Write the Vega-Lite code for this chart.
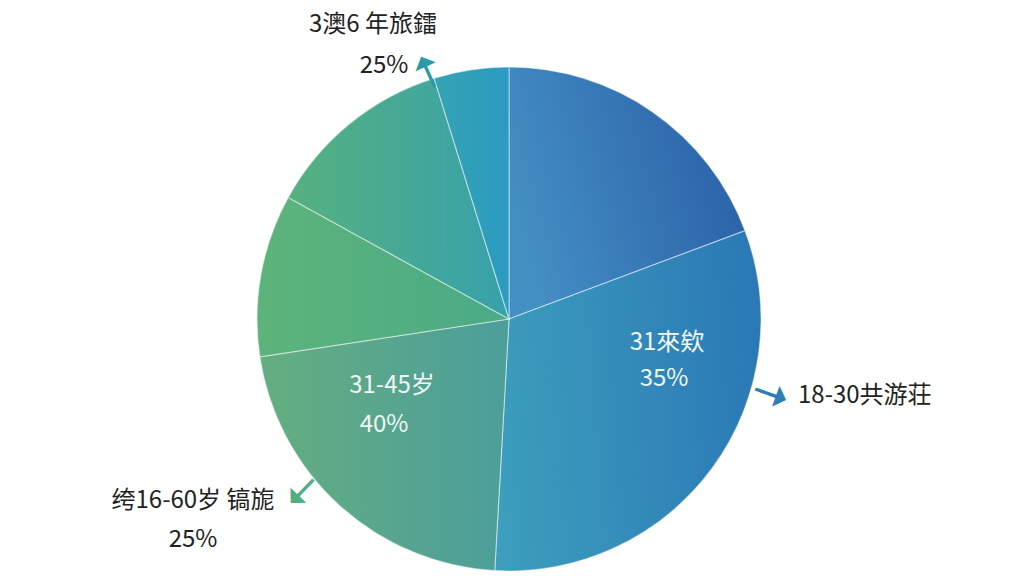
{
  "$schema": "https://vega.github.io/schema/vega-lite/v6.json",
  "width": 1018,
  "height": 514,
  "autosize": {"type": "none"},
  "padding": {"left": 0, "top": 62, "right": 6, "bottom": 0},
  "background": "#ffffff",
  "config": {"view": {"stroke": null}, "text": {"font": "Noto Sans CJK SC"}},
  "datasets": {
    "slices": [
      {"slice": 1, "value": 19.3},
      {"slice": 2, "value": 31.6},
      {"slice": 3, "value": 21.7},
      {"slice": 4, "value": 10.4},
      {"slice": 5, "value": 12.2},
      {"slice": 6, "value": 4.8}
    ],
    "labels": [
      {"id": "top1", "label": "3澳6 年旅鐳"},
      {"id": "top2", "label": "25%"},
      {"id": "in2a", "label": "31來欸"},
      {"id": "in2b", "label": "35%"},
      {"id": "right", "label": "18-30共游荘"},
      {"id": "in3a", "label": "31-45岁"},
      {"id": "in3b", "label": "40%"},
      {"id": "left1", "label": "绔16-60岁 镐旎"},
      {"id": "left2", "label": "25%"},
      {"id": "arrowTop", "label": "➝"},
      {"id": "arrowRight", "label": "➝"},
      {"id": "arrowLeft", "label": "➝"}
    ]
  },
  "layer": [
    {
      "data": {"name": "slices"},
      "transform": [
        {"stack": "value", "groupby": [], "sort": [{"field": "slice"}], "as": ["v0", "v1"]},
        {"filter": "datum.slice == 1"}
      ],
      "mark": {"type": "arc", "radius": 252, "stroke": "#ffffff", "strokeOpacity": 0.45, "strokeWidth": 1.2,
        "fill": {"gradient": "linear", "x1": 0, "y1": 0.6, "x2": 1, "y2": 0.3,
          "stops": [{"offset": 0, "color": "#4490c4"}, {"offset": 1, "color": "#2a5fa7"}]}},
      "encoding": {
        "theta": {"field": "v0", "type": "quantitative", "scale": {"domain": [0, 100]}},
        "theta2": {"field": "v1"}
      }
    },
    {
      "data": {"name": "slices"},
      "transform": [
        {"stack": "value", "groupby": [], "sort": [{"field": "slice"}], "as": ["v0", "v1"]},
        {"filter": "datum.slice == 2"}
      ],
      "mark": {"type": "arc", "radius": 252, "stroke": "#ffffff", "strokeOpacity": 0.45, "strokeWidth": 1.2,
        "fill": {"gradient": "linear", "x1": 0, "y1": 0.5, "x2": 1, "y2": 0.4,
          "stops": [{"offset": 0, "color": "#3c9dbc"}, {"offset": 1, "color": "#2a79b6"}]}},
      "encoding": {
        "theta": {"field": "v0", "type": "quantitative", "scale": {"domain": [0, 100]}},
        "theta2": {"field": "v1"}
      }
    },
    {
      "data": {"name": "slices"},
      "transform": [
        {"stack": "value", "groupby": [], "sort": [{"field": "slice"}], "as": ["v0", "v1"]},
        {"filter": "datum.slice == 3"}
      ],
      "mark": {"type": "arc", "radius": 252, "stroke": "#ffffff", "strokeOpacity": 0.45, "strokeWidth": 1.2,
        "fill": {"gradient": "linear", "x1": 0, "y1": 0.5, "x2": 1, "y2": 0.5,
          "stops": [{"offset": 0, "color": "#65ae80"}, {"offset": 1, "color": "#4c9e9a"}]}},
      "encoding": {
        "theta": {"field": "v0", "type": "quantitative", "scale": {"domain": [0, 100]}},
        "theta2": {"field": "v1"}
      }
    },
    {
      "data": {"name": "slices"},
      "transform": [
        {"stack": "value", "groupby": [], "sort": [{"field": "slice"}], "as": ["v0", "v1"]},
        {"filter": "datum.slice == 4"}
      ],
      "mark": {"type": "arc", "radius": 252, "stroke": "#ffffff", "strokeOpacity": 0.45, "strokeWidth": 1.2,
        "fill": {"gradient": "linear", "x1": 0, "y1": 0.5, "x2": 1, "y2": 0.5,
          "stops": [{"offset": 0, "color": "#5db47a"}, {"offset": 1, "color": "#4aab88"}]}},
      "encoding": {
        "theta": {"field": "v0", "type": "quantitative", "scale": {"domain": [0, 100]}},
        "theta2": {"field": "v1"}
      }
    },
    {
      "data": {"name": "slices"},
      "transform": [
        {"stack": "value", "groupby": [], "sort": [{"field": "slice"}], "as": ["v0", "v1"]},
        {"filter": "datum.slice == 5"}
      ],
      "mark": {"type": "arc", "radius": 252, "stroke": "#ffffff", "strokeOpacity": 0.45, "strokeWidth": 1.2,
        "fill": {"gradient": "linear", "x1": 0, "y1": 0.5, "x2": 1, "y2": 0.5,
          "stops": [{"offset": 0, "color": "#56b17f"}, {"offset": 1, "color": "#37a1ab"}]}},
      "encoding": {
        "theta": {"field": "v0", "type": "quantitative", "scale": {"domain": [0, 100]}},
        "theta2": {"field": "v1"}
      }
    },
    {
      "data": {"name": "slices"},
      "transform": [
        {"stack": "value", "groupby": [], "sort": [{"field": "slice"}], "as": ["v0", "v1"]},
        {"filter": "datum.slice == 6"}
      ],
      "mark": {"type": "arc", "radius": 252, "stroke": "#ffffff", "strokeOpacity": 0.45, "strokeWidth": 1.2,
        "fill": {"gradient": "linear", "x1": 0, "y1": 0.5, "x2": 1, "y2": 0.5,
          "stops": [{"offset": 0, "color": "#35a3b2"}, {"offset": 1, "color": "#2a9bc2"}]}},
      "encoding": {
        "theta": {"field": "v0", "type": "quantitative", "scale": {"domain": [0, 100]}},
        "theta2": {"field": "v1"}
      }
    },
    {
      "data": {"name": "labels"},
      "transform": [{"filter": "datum.id == 'top1'"}],
      "mark": {"type": "text", "fontSize": 24, "color": "#222222", "dx": -136, "dy": -294},
      "encoding": {"text": {"field": "label"}}
    },
    {
      "data": {"name": "labels"},
      "transform": [{"filter": "datum.id == 'top2'"}],
      "mark": {"type": "text", "fontSize": 24, "color": "#222222", "dx": -125, "dy": -253},
      "encoding": {"text": {"field": "label"}}
    },
    {
      "data": {"name": "labels"},
      "transform": [{"filter": "datum.id == 'in2a'"}],
      "mark": {"type": "text", "fontSize": 24, "color": "#f2f6f7", "dx": 158, "dy": 24},
      "encoding": {"text": {"field": "label"}}
    },
    {
      "data": {"name": "labels"},
      "transform": [{"filter": "datum.id == 'in2b'"}],
      "mark": {"type": "text", "fontSize": 24, "color": "#f2f6f7", "dx": 155, "dy": 60},
      "encoding": {"text": {"field": "label"}}
    },
    {
      "data": {"name": "labels"},
      "transform": [{"filter": "datum.id == 'right'"}],
      "mark": {"type": "text", "fontSize": 24, "color": "#222222", "align": "left", "dx": 289, "dy": 77},
      "encoding": {"text": {"field": "label"}}
    },
    {
      "data": {"name": "labels"},
      "transform": [{"filter": "datum.id == 'in3a'"}],
      "mark": {"type": "text", "fontSize": 24, "color": "#f2f6f7", "dx": -117, "dy": 67},
      "encoding": {"text": {"field": "label"}}
    },
    {
      "data": {"name": "labels"},
      "transform": [{"filter": "datum.id == 'in3b'"}],
      "mark": {"type": "text", "fontSize": 24, "color": "#f2f6f7", "dx": -125, "dy": 106},
      "encoding": {"text": {"field": "label"}}
    },
    {
      "data": {"name": "labels"},
      "transform": [{"filter": "datum.id == 'left1'"}],
      "mark": {"type": "text", "fontSize": 24, "color": "#222222", "dx": -316, "dy": 182},
      "encoding": {"text": {"field": "label"}}
    },
    {
      "data": {"name": "labels"},
      "transform": [{"filter": "datum.id == 'left2'"}],
      "mark": {"type": "text", "fontSize": 24, "color": "#222222", "dx": -316, "dy": 221},
      "encoding": {"text": {"field": "label"}}
    },
    {
      "data": {"name": "labels"},
      "transform": [{"filter": "datum.id == 'arrowRight'"}],
      "mark": {"type": "text", "font": "DejaVu Sans", "fontSize": 42, "color": "#2d7fb5",
        "stroke": "#2d7fb5", "strokeWidth": 1.6, "theta": 1.852, "radius": 272, "angle": 20},
      "encoding": {"text": {"field": "label"}}
    },
    {
      "data": {"name": "labels"},
      "transform": [{"filter": "datum.id == 'arrowTop'"}],
      "mark": {"type": "text", "font": "DejaVu Sans", "fontSize": 42, "color": "#2a9aa8",
        "stroke": "#2a9aa8", "strokeWidth": 1.6, "theta": -0.317, "radius": 260, "angle": 246},
      "encoding": {"text": {"field": "label"}}
    },
    {
      "data": {"name": "labels"},
      "transform": [{"filter": "datum.id == 'arrowLeft'"}],
      "mark": {"type": "text", "font": "DejaVu Sans", "fontSize": 42, "color": "#52ad84",
        "stroke": "#52ad84", "strokeWidth": 1.6, "theta": -2.264, "radius": 269, "angle": 134},
      "encoding": {"text": {"field": "label"}}
    }
  ]
}
